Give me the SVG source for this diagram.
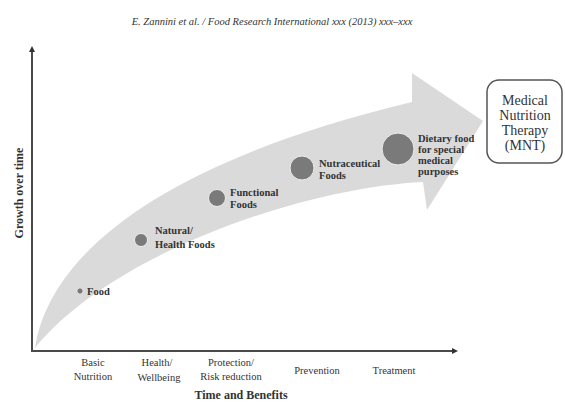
<svg xmlns="http://www.w3.org/2000/svg" width="565" height="402" viewBox="0 0 565 402">
<style>
text{font-family:"Liberation Serif","DejaVu Serif",serif;fill:#333}
.nl{font-size:10.5px;font-weight:bold}
.ax{font-size:10.5px}
.dot{fill:#7a7a7a;stroke:#eeeeee;stroke-width:1}
.axis{stroke:#4a4a4a;stroke-width:2;fill:none}
</style>
<defs>
<marker id="ah" viewBox="0 0 6 6" refX="3" refY="3" markerWidth="3" markerHeight="3" orient="auto">
<path d="M0,0 L6,3 L0,6 Z" fill="#333"/>
</marker>
</defs>
<rect width="565" height="402" fill="#ffffff"/>
<text x="272" y="25" text-anchor="middle" font-size="10.5" font-style="italic" fill="#555">E. Zannini et al. / Food Research International xxx (2013) xxx–xxx</text>
<g id="axes">
<path class="axis" d="M32,351 L32,49" marker-end="url(#ah)"/>
<path class="axis" d="M31,351 L455,351" marker-end="url(#ah)"/>
<text font-size="12" font-weight="bold" fill="#666" text-anchor="middle" transform="translate(23,193) rotate(-90)">Growth over time</text>
</g>
<g id="arrow">
<path d="M35,348 C50,250 170,160 412,102 L412,73 L483,121 L427,210 L423,182 C300,188 110,255 35,348 Z" fill="#dadada"/>
</g>
<g id="node-food">
<circle class="dot" cx="80" cy="291" r="3.2"/>
<text class="nl" x="87" y="295">Food</text>
</g>
<g id="node-natural">
<circle class="dot" cx="141" cy="240" r="6.5"/>
<text class="nl" x="155" y="234">Natural/</text>
<text class="nl" x="155" y="248">Health Foods</text>
</g>
<g id="node-functional">
<circle class="dot" cx="217" cy="198" r="8.5"/>
<text class="nl" x="230" y="196">Functional</text>
<text class="nl" x="230" y="208">Foods</text>
</g>
<g id="node-nutraceutical">
<circle class="dot" cx="302" cy="168" r="12"/>
<text class="nl" x="319" y="167">Nutraceutical</text>
<text class="nl" x="319" y="179">Foods</text>
</g>
<g id="node-dietary">
<circle class="dot" cx="398" cy="149" r="16"/>
<text class="nl" x="418" y="142">Dietary food</text>
<text class="nl" x="418" y="153">for special</text>
<text class="nl" x="418" y="164">medical</text>
<text class="nl" x="418" y="175">purposes</text>
</g>
<g id="node-mnt">
<rect x="487" y="80" width="75" height="83" rx="12" ry="12" fill="#ffffff" stroke="#555" stroke-width="1.5"/>
<text font-size="14" text-anchor="middle" x="525" y="105">Medical</text>
<text font-size="14" text-anchor="middle" x="525" y="120">Nutrition</text>
<text font-size="14" text-anchor="middle" x="525" y="135">Therapy</text>
<text font-size="14" text-anchor="middle" x="525" y="150">(MNT)</text>
</g>
<g id="x-labels">
<text class="ax" text-anchor="middle" x="93" y="366">Basic</text>
<text class="ax" text-anchor="middle" x="93" y="380">Nutrition</text>
<text class="ax" text-anchor="middle" x="157" y="366">Health/</text>
<text class="ax" text-anchor="middle" x="159" y="381">Wellbeing</text>
<text class="ax" text-anchor="middle" x="231" y="366">Protection/</text>
<text class="ax" text-anchor="middle" x="231" y="380">Risk reduction</text>
<text class="ax" text-anchor="middle" x="317" y="374">Prevention</text>
<text class="ax" text-anchor="middle" x="394" y="374">Treatment</text>
<text font-size="12" font-weight="bold" text-anchor="middle" x="241" y="399">Time and Benefits</text>
</g>
</svg>
